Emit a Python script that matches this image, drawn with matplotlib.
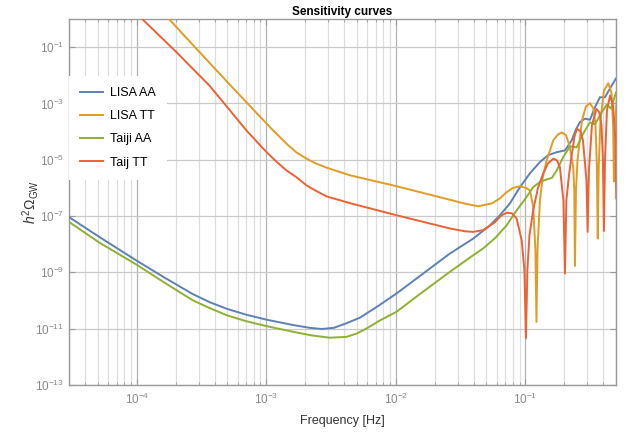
import matplotlib
matplotlib.use("Agg")
import numpy as np
import matplotlib.pyplot as plt
from matplotlib.ticker import LogLocator, FixedLocator, NullLocator, NullFormatter

plt.rcParams['font.family'] = ['Liberation Sans', 'DejaVu Sans']
plt.rcParams['mathtext.fontset'] = 'custom'
plt.rcParams['mathtext.rm'] = 'Liberation Sans'
plt.rcParams['mathtext.it'] = 'Liberation Sans:italic'

# values, as log10(frequency / Hz) and log10(h^2 Omega_GW)
lisa_aa_logf = [-4.525, -4.286, -4.0, -3.784, -3.568, -3.436, -3.307, -3.158, -2.998, -2.793,
                -2.664, -2.571, -2.479, -2.378, -2.278, -2.139, -1.995, -1.815, -1.583, -1.403,
                -1.274, -1.197, -1.120, -1.042, -0.965, -0.888, -0.826, -0.759, -0.695, -0.643,
                -0.610, -0.579, -0.541, -0.502, -0.463, -0.425, -0.386, -0.334, -0.301]
lisa_aa_logh = [-7.03, -7.75, -8.585, -9.19, -9.77, -10.06, -10.29, -10.50, -10.68, -10.87,
                -10.97, -11.01, -10.97, -10.80, -10.61, -10.20, -9.75, -9.13, -8.33, -7.80,
                -7.33, -6.97, -6.55, -5.97, -5.48, -5.08, -4.84, -4.73, -4.67, -4.31,
                -3.92, -3.66, -3.54, -3.58, -3.13, -2.78, -2.78, -2.36, -2.11]

lisa_tt_logf = [-3.792, -3.745, -3.539, -3.282, -3.050, -2.947, -2.844, -2.767, -2.690, -2.618,
                -2.535, -2.355, -1.995, -1.583, -1.467, -1.364, -1.259, -1.197, -1.145, -1.096,
                -1.042, -0.996, -0.965, -0.940, -0.923, -0.915, -0.907, -0.888, -0.865, -0.836,
                -0.785, -0.749, -0.718, -0.687, -0.660, -0.631, -0.623, -0.618, -0.610, -0.598,
                -0.564, -0.533, -0.502, -0.475, -0.459, -0.449, -0.442, -0.434, -0.421, -0.394,
                -0.361, -0.336, -0.323, -0.317, -0.310, -0.293]
lisa_tt_logh = [0.19, -0.03, -1.06, -2.33, -3.46, -3.96, -4.43, -4.74, -4.96, -5.13,
                -5.28, -5.55, -5.94, -6.42, -6.56, -6.65, -6.55, -6.37, -6.15, -6.00,
                -5.94, -6.00, -6.09, -6.68, -8.21, -10.76, -8.21, -6.44, -5.59, -5.02,
                -4.31, -4.10, -4.03, -4.13, -4.49, -5.26, -6.09, -8.77, -6.09, -5.02,
                -3.60, -3.11, -2.99, -3.18, -3.78, -5.20, -7.80, -5.20, -3.60, -2.54,
                -2.28, -2.61, -3.78, -5.77, -3.78, -2.72]

taiji_aa_logf = [-4.525, -4.286, -4.0, -3.784, -3.568, -3.436, -3.307, -3.158, -2.998, -2.793,
                 -2.649, -2.510, -2.381, -2.301, -2.226, -2.124, -1.995, -1.815, -1.583, -1.403,
                 -1.326, -1.236, -1.145, -1.073, -1.0, -0.940, -0.888, -0.842, -0.795, -0.759,
                 -0.708, -0.656, -0.605, -0.553, -0.502, -0.463, -0.412, -0.371, -0.340, -0.301]
taiji_aa_logh = [-7.20, -7.95, -8.73, -9.37, -9.99, -10.27, -10.52, -10.73, -10.91, -11.11,
                 -11.24, -11.32, -11.29, -11.17, -10.99, -10.71, -10.40, -9.77, -8.98, -8.39,
                 -8.15, -7.79, -7.33, -6.83, -6.38, -5.97, -5.79, -5.71, -5.64, -5.38,
                 -4.90, -4.52, -4.56, -4.06, -3.67, -3.74, -3.32, -3.04, -3.18, -2.61]

taiji_tt_logf = [-4.0, -3.951, -3.693, -3.436, -3.153, -2.998, -2.921, -2.844, -2.767, -2.690,
                 -2.618, -2.535, -2.355, -1.995, -1.583, -1.467, -1.403, -1.326, -1.236, -1.189,
                 -1.145, -1.104, -1.068, -1.029, -1.008, -0.996, -0.985, -0.969, -0.940, -0.904,
                 -0.863, -0.826, -0.785, -0.757, -0.734, -0.707, -0.695, -0.684, -0.664, -0.643,
                 -0.621, -0.602, -0.575, -0.556, -0.529, -0.520, -0.510, -0.487, -0.452, -0.429,
                 -0.413, -0.402, -0.394, -0.386, -0.371, -0.347, -0.324, -0.305, -0.299]
taiji_tt_logh = [0.19, -0.03, -1.18, -2.38, -3.96, -4.73, -5.07, -5.38, -5.62, -5.91,
                 -6.10, -6.30, -6.54, -6.97, -7.44, -7.54, -7.56, -7.50, -7.22, -6.99,
                 -6.88, -6.90, -7.09, -7.86, -8.92, -11.34, -8.92, -7.68, -6.79, -6.01,
                 -5.49, -5.13, -4.96, -5.02, -5.26, -6.44, -9.04, -6.44, -5.55, -4.84,
                 -4.17, -3.90, -3.99, -4.31, -5.73, -7.56, -5.38, -3.78, -3.19, -3.32,
                 -3.78, -5.02, -7.53, -5.02, -3.25, -2.72, -3.07, -4.31, -6.37]

labels = ['LISA AA', 'LISA TT', 'Taiji AA', 'Taij TT']
colors = ['#5e81b5', '#e19c24', '#8fb032', '#eb6235']

fig = plt.figure(figsize=(6.33, 4.37), dpi=100)
ax = fig.add_axes([69 / 633, 52 / 437, 547 / 633, 366 / 437])

series = [(lisa_aa_logf, lisa_aa_logh), (lisa_tt_logf, lisa_tt_logh),
          (taiji_aa_logf, taiji_aa_logh), (taiji_tt_logf, taiji_tt_logh)]
for (lf, lh), lab, c in zip(series, labels, colors):
    ax.plot(10.0 ** np.array(lf), 10.0 ** np.array(lh), color=c, lw=1.4, label=lab, zorder=3)

ax.set_xscale('log')
ax.set_yscale('log')
ax.set_xlim(3e-5, 0.5)
ax.set_ylim(1e-13, 1)

ax.xaxis.set_major_locator(LogLocator(base=10, numticks=20))
ax.xaxis.set_minor_locator(LogLocator(base=10, subs=range(2, 10), numticks=20))
ax.xaxis.set_minor_formatter(NullFormatter())
ax.yaxis.set_major_locator(FixedLocator([10.0 ** k for k in range(-13, 0, 2)]))
ax.yaxis.set_minor_locator(NullLocator())

ax.grid(which='major', axis='x', color='#b3b3b3', lw=0.9, zorder=0)
ax.grid(which='minor', axis='x', color='#dedede', lw=0.9, zorder=0)
ax.grid(which='major', axis='y', color='#c9c9c9', lw=0.9, zorder=0)
ax.set_axisbelow(True)

for s in ax.spines.values():
    s.set_color('#9a9a9a')
    s.set_linewidth(1.0)
ax.tick_params(which='both', direction='in', top=True, right=True, color='#9a9a9a',
               labelsize=8.5, labelcolor='#8a8a8a')
ax.tick_params(which='major', length=4)
ax.tick_params(which='minor', length=2)
ax.tick_params(axis='x', pad=5)

ax.set_title('Sensitivity curves', fontsize=8.5, fontweight='bold', pad=3)
ax.set_xlabel('Frequency [Hz]', fontsize=9, color='#333333')
ax.set_ylabel(r'$h^2\Omega_{\mathrm{GW}}$', fontsize=10, color='#333333')
ax.xaxis.set_label_coords(0.5, -0.082)
ax.yaxis.set_label_coords(-0.051, 0.5)

leg = ax.legend(loc='upper left', bbox_to_anchor=(0.0, 0.845), borderaxespad=0,
                frameon=True, facecolor='white', edgecolor='none', framealpha=1,
                fancybox=False, fontsize=9, handlelength=1.8, handletextpad=0.6,
                labelspacing=0.9, borderpad=0.9)
leg.set_zorder(5)

fig.savefig('out.png', dpi=100)
